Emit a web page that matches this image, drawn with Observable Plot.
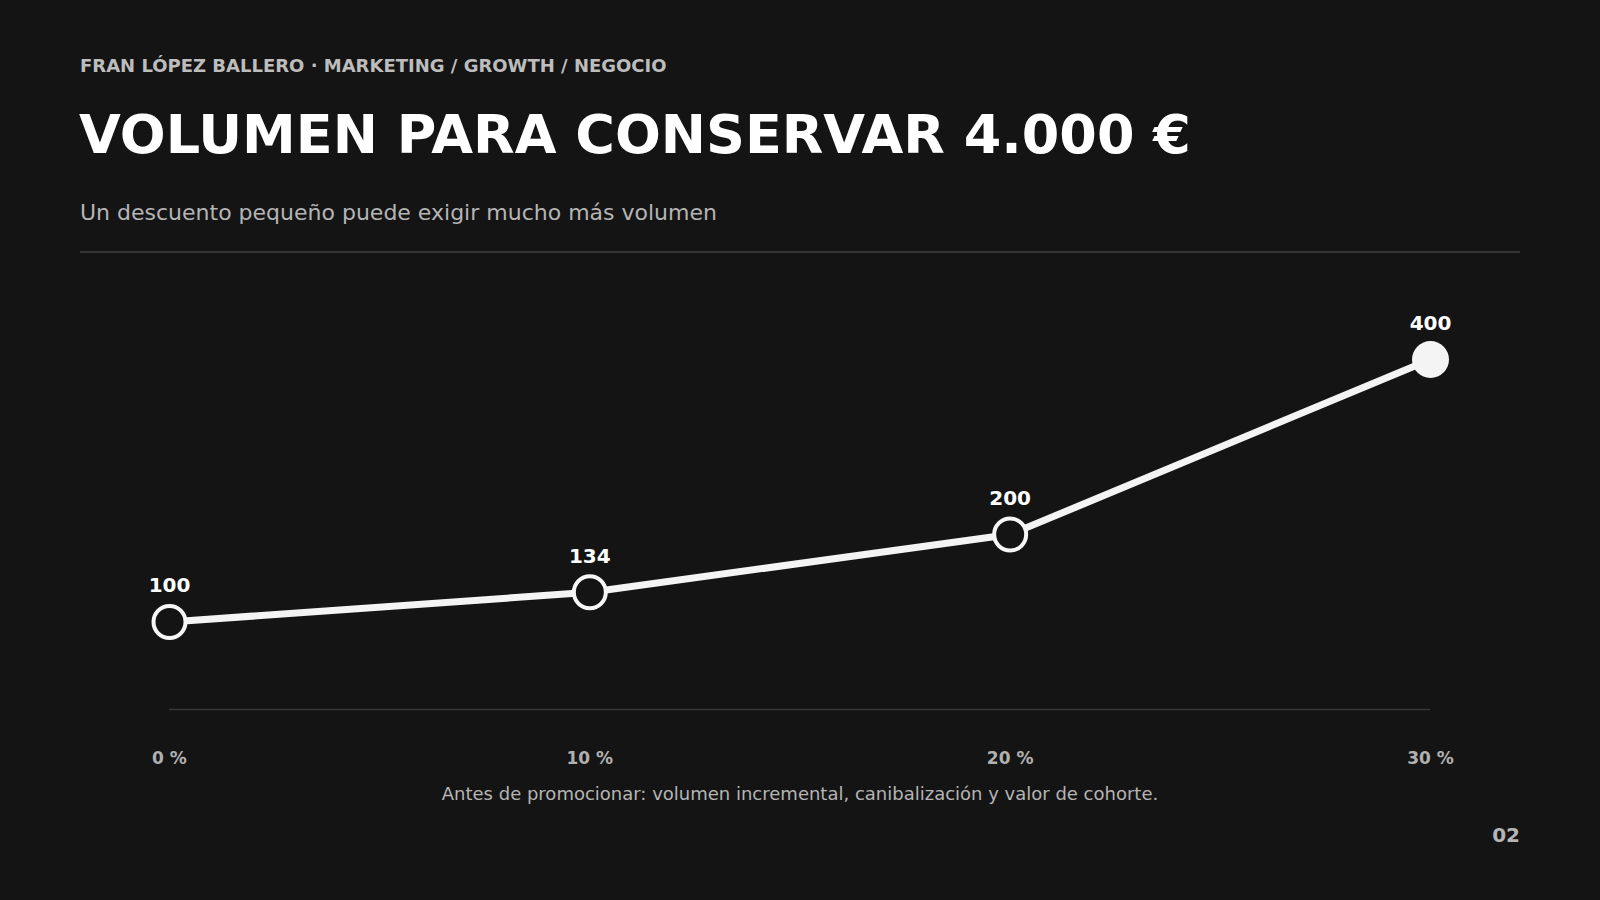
<!DOCTYPE html>
<html>
<head>
<meta charset="utf-8">
<script src="https://cdn.jsdelivr.net/npm/d3@7"></script>
<script src="https://cdn.jsdelivr.net/npm/@observablehq/plot@0.6"></script>
<style>
  html, body { margin: 0; padding: 0; }
  body { width: 1600px; height: 900px; background: #141414; position: relative; overflow: hidden; font-family: "DejaVu Sans", sans-serif; }
  .abs { position: absolute; line-height: 1; white-space: nowrap; }
  #kicker { left: 80px; top: 57px; font-size: 18px; font-weight: bold; color: #bdbdbd; }
  #title { left: 79px; top: 108px; font-size: 54px; font-weight: bold; color: #ffffff; }
  #subtitle { left: 80px; top: 202px; font-size: 22px; color: #b5b5b5; }
  #divider { left: 80px; top: 251px; width: 1440px; height: 2px; background: #333333; }
  #chart { left: 0; top: 260px; }
  #caption { left: 0; width: 1600px; text-align: center; top: 785px; font-size: 18px; color: #b5b5b5; }
  #page { right: 80px; top: 825px; font-size: 20px; font-weight: bold; color: #b5b5b5; }
</style>
</head>
<body>
<div id="kicker" class="abs">FRAN LÓPEZ BALLERO · MARKETING / GROWTH / NEGOCIO</div>
<div id="title" class="abs">VOLUMEN PARA CONSERVAR 4.000 €</div>
<div id="subtitle" class="abs">Un descuento pequeño puede exigir mucho más volumen</div>
<div id="divider" class="abs"></div>
<div id="chart" class="abs"></div>
<div id="caption" class="abs">Antes de promocionar: volumen incremental, canibalización y valor de cohorte.</div>
<div id="page" class="abs">02</div>
<script>
const discounts = [0, 10, 20, 30];
const volumes = [100, 134, 200, 400];
const tickLabels = ["0 %", "10 %", "20 %", "30 %"];

const data = discounts.map((d, i) => ({discount: d, volume: volumes[i], label: String(volumes[i])}));
const lastIndex = data.length - 1;
const openPoints = data.filter((d, i) => i !== lastIndex);
const filledPoints = data.filter((d, i) => i === lastIndex);

const chart = Plot.plot({
  width: 1600,
  height: 520,
  marginLeft: 169,
  marginRight: 170,
  marginTop: 99,
  marginBottom: 71,
  style: {background: "transparent", fontFamily: "DejaVu Sans, sans-serif", overflow: "visible"},
  x: {domain: [0, 30]},
  y: {domain: [0, 400], axis: null},
  marks: [
    Plot.ruleY([0], {x1: discounts[0], x2: discounts[discounts.length - 1], stroke: "#363636", strokeWidth: 1.5}),
    Plot.axisX({
      ticks: discounts,
      tickFormat: (d) => tickLabels[discounts.indexOf(d)],
      tickSize: 0,
      tickPadding: 42,
      fontSize: 17,
      fontWeight: "bold",
      fill: "#b0b0b0",
      label: null
    }),
    Plot.line(data, {x: "discount", y: "volume", stroke: "#f4f4f4", strokeWidth: 7}),
    Plot.dot(openPoints, {x: "discount", y: "volume", r: 16, fill: "#141414", stroke: "#f6f6f6", strokeWidth: 4}),
    Plot.dot(filledPoints, {x: "discount", y: "volume", r: 18.5, fill: "#f4f4f4", stroke: "none"}),
    Plot.text(data, {x: "discount", y: "volume", text: "label", dy: -36, fontSize: 20, fontWeight: "bold", fill: "#ffffff"})
  ]
});
document.getElementById("chart").appendChild(chart);
</script>
</body>
</html>
